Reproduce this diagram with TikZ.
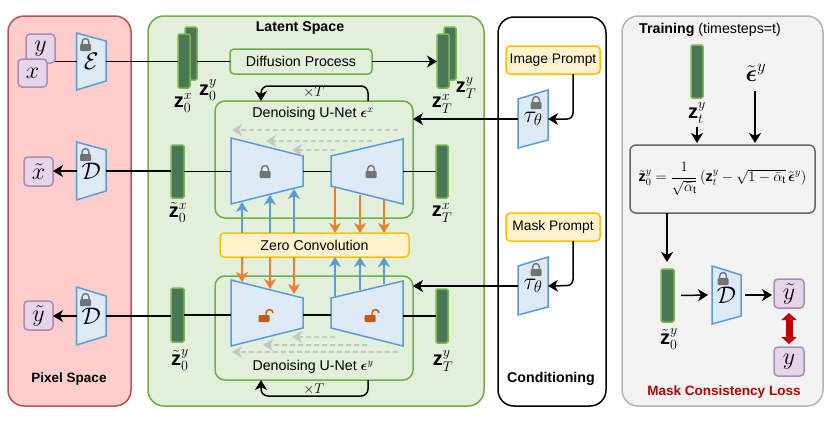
\documentclass[tikz,border=0pt]{standalone}
\usepackage{amsmath,amssymb}
\usepackage{fix-cm}
\usepackage{fontspec}
\setmainfont{Liberation Sans}
\usetikzlibrary{arrows.meta}
\definecolor{pixfill}{HTML}{FFCCCC}\definecolor{pixline}{HTML}{B85450}
\definecolor{latfill}{HTML}{E2EFDA}\definecolor{latline}{HTML}{70AD47}
\definecolor{trafill}{HTML}{F2F2F2}\definecolor{traline}{HTML}{B3B3B3}
\definecolor{trapfill}{HTML}{DEE9F6}\definecolor{blueline}{HTML}{5B9BD5}
\definecolor{orangeline}{HTML}{ED7D31}\definecolor{barfill}{HTML}{4A7856}
\definecolor{barline}{HTML}{7DB54F}
\definecolor{purfill}{HTML}{E6D5E8}\definecolor{purline}{HTML}{A98CB8}
\definecolor{yelfill}{HTML}{FFF2CC}\definecolor{yelline}{HTML}{FFC000}
\definecolor{lockgray}{HTML}{737373}\definecolor{lockor}{HTML}{C55A11}
\definecolor{dashgray}{HTML}{C6C6C6}\definecolor{lossred}{HTML}{C00000}
\newcommand{\ltxt}[1]{\fontsize{#1}{#1}\selectfont}
\tikzset{
  panel/.style={draw,line width=1.5pt,rounded corners=16pt},
  barn/.style={draw=barline,fill=barfill,line width=1.5pt,rounded corners=1.5pt},
  purbox/.style={draw=purline,fill=purfill,line width=1.5pt,rounded corners=4pt},
  grebox/.style={draw=latline,line width=1.5pt,rounded corners=4pt},
  unetbox/.style={draw=latline,line width=1.5pt,rounded corners=10pt},
  yelbox/.style={draw=yelline,fill=yelfill,line width=1.5pt,rounded corners=4pt},
  formbox/.style={draw=black!60,line width=1.5pt,rounded corners=6pt},
  trappoly/.style={draw=blueline,fill=trapfill,line width=1.5pt,line join=miter},
  wire/.style={line width=1.5pt,black},
  arr/.style={line width=1.5pt,black,-{Stealth[length=10pt,width=12pt,inset=3pt]}},
  thinarr/.style={line width=1.5pt,-{Stealth[length=10pt,width=12pt,inset=3pt]}},
  bluearr/.style={thinarr,blueline},
  orarr/.style={thinarr,orangeline},
  grayarr/.style={line width=1.2pt,dashgray,dash pattern=on 5pt off 3pt,-{Stealth[length=10pt,width=12pt,inset=3pt]}},
  mlabel/.style={inner sep=0pt,font=\ltxt{20}},
  title/.style={inner sep=0pt,font=\ltxt{14.2}\bfseries},
  lockclosed/.pic={\fill[lockgray,rounded corners=1pt] (-5.5,-1) rectangle (5.5,6);
    \draw[lockgray,line width=1.4pt] (-3.4,-1) -- (-3.4,-3) .. controls (-3.4,-7.5) and (3.4,-7.5) .. (3.4,-3) -- (3.4,-1);},
  lockopen/.pic={\fill[lockor,rounded corners=1pt] (-5.5,-1) rectangle (5.5,6);
    \draw[lockor,line width=1.4pt] (2,-1) -- (2,-3) .. controls (2,-7.5) and (9,-7.5) .. (9,-3);},
}
% style, x1, y1, x2, y2, name, text
\newcommand{\rbox}[7]{%
  \pgfmathsetmacro\bw{#4-#2}\pgfmathsetmacro\bh{#5-#3}%
  \pgfmathsetmacro\bx{(#4+#2)/2}\pgfmathsetmacro\by{(#5+#3)/2}%
  \node[#1,minimum width=\bw pt,minimum height=\bh pt,inner sep=0pt,outer sep=0pt] (#6) at (\bx,\by) {#7};}
% name, x1, x2, lefttop, leftbottom, righttop, rightbottom, text
\newcommand{\trapz}[8]{%
  \draw[trappoly] (#2,#4) -- (#3,#6) -- (#3,#7) -- (#2,#5) -- cycle;
  \pgfmathsetmacro\tmin{min(#4,#6)}\pgfmathsetmacro\tmax{max(#5,#7)}%
  \pgfmathsetmacro\bw{#3-#2}\pgfmathsetmacro\bh{\tmax-\tmin}%
  \pgfmathsetmacro\bx{(#3+#2)/2}\pgfmathsetmacro\by{(\tmax+\tmin)/2}%
  \node[minimum width=\bw pt,minimum height=\bh pt,inner sep=0pt,outer sep=0pt,font=\ltxt{24}] (#1) at (\bx,\by) {#8};}
\begin{document}
\begin{tikzpicture}[x=1pt,y=-1pt,font=\ltxt{14.2}]
\useasboundingbox (0,0) rectangle (830,423);
% panels
\rbox{panel,draw=pixline,fill=pixfill}{8}{16}{131}{406}{pixpanel}{}
\rbox{panel,draw=latline,fill=latfill}{148}{16}{484}{406}{latpanel}{}
\rbox{panel,draw=black,fill=white}{498}{17}{606}{406}{condpanel}{}
\rbox{panel,draw=traline,fill=trafill}{622}{16}{823}{406}{trapanel}{}
\node[title,font=\ltxt{13.5}\bfseries] (tpix) at (69,379) {Pixel Space};
\node[title] (tlat) at (300,28) {Latent Space};
\node[title] (tcond) at (551,379) {Conditioning};
\node[inner sep=0pt,anchor=west] (ttra) at (639,30) {\textbf{Training} (timesteps=t)};
\node[title,font=\ltxt{13.5}\bfseries,text=lossred] (tloss) at (724,392) {Mask Consistency Loss};
% U-Net frames
\rbox{unetbox}{215}{101}{413}{218}{unetx}{}
\rbox{unetbox}{215}{276}{413}{380}{unety}{}
\node[inner sep=0pt] (unetxl) at (313,114) {Denoising U-Net $\boldsymbol{\epsilon}^{x}$};
\node[inner sep=0pt] (unetyl) at (313,367) {Denoising U-Net $\boldsymbol{\epsilon}^{y}$};
% encoder side
\rbox{purbox}{26}{34}{55}{63}{yin}{\ltxt{24}$y$}
\rbox{purbox}{18}{59}{47}{87}{xin}{\ltxt{24}$x$}
\trapz{enc}{76.5}{106}{33}{90}{41}{81}{$\mathcal{E}$}
\pic at (85.5,45) {lockclosed};
\trapz{decx}{76.5}{106}{142}{200}{150}{191}{$\mathcal{D}$}
\pic at (85.5,155) {lockclosed};
\trapz{decy}{76.5}{106}{287}{345}{296}{336}{$\mathcal{D}$}
\pic at (85.5,300) {lockclosed};
\rbox{purbox}{24}{157}{53}{186}{xout}{\ltxt{24}$\tilde{x}$}
\rbox{purbox}{24}{301}{53}{330}{yout}{\ltxt{24}$\tilde{y}$}
% latent bars
\rbox{barn}{185}{27}{197}{80}{zoy}{}
\rbox{barn}{178}{34}{190}{88}{zox}{}
\rbox{barn}{444}{27}{456}{80}{zTy}{}
\rbox{barn}{437}{34}{449}{88}{zTx}{}
\rbox{barn}{171}{145}{184}{198}{zhx}{}
\rbox{barn}{171}{288}{184}{342}{zhy}{}
\rbox{barn}{436}{145}{448}{198}{zTxb}{}
\rbox{barn}{436}{289}{448}{343}{zTyb}{}
\node[mlabel] (lzox) at (183,103) {$\mathbf{z}_0^{x}$};
\node[mlabel] (lzoy) at (208,90) {$\mathbf{z}_0^{y}$};
\node[mlabel] (lzTx) at (442,104) {$\mathbf{z}_T^{x}$};
\node[mlabel] (lzTy) at (466,88) {$\mathbf{z}_T^{y}$};
\node[mlabel] (lzhx) at (178,212) {$\tilde{\mathbf{z}}_0^{x}$};
\node[mlabel] (lzhy) at (180,360) {$\tilde{\mathbf{z}}_0^{y}$};
\node[mlabel] (lzTxb) at (442,213) {$\mathbf{z}_T^{x}$};
\node[mlabel] (lzTyb) at (443,361) {$\mathbf{z}_T^{y}$};
% boxes
\rbox{grebox}{230}{49}{372}{74}{diff}{Diffusion Process}
\rbox{yelbox}{220}{233}{409}{257}{zero}{Zero Convolution}
\rbox{yelbox}{506}{46}{600}{74}{imgp}{\ltxt{13.8}Image Prompt}
\rbox{yelbox}{506}{213}{600}{241}{maskp}{\ltxt{13.8}Mask Prompt}
% tau encoders
\trapz{taux}{518}{548}{99}{148}{90}{140}{$\tau_\theta$}
\pic at (536,103) {lockclosed};
\trapz{tauy}{518}{548}{266}{315}{257}{307}{$\tau_\theta$}
\pic at (536,270) {lockclosed};
% U-Net trapezoids
\trapz{exl}{231}{303}{138}{204}{156}{186}{}
\trapz{exr}{331}{403}{156}{186}{139}{204}{}
\trapz{eyl}{231}{303}{280}{346}{298}{328}{}
\trapz{eyr}{331}{403}{298}{328}{281}{346}{}
\pic at (265,172) {lockclosed};
\pic at (371,172) {lockclosed};
\pic at (264,316) {lockopen};
\pic at (370,316) {lockopen};
% wires
\draw[wire] (yin.east |- enc.west) -- (enc.west);
\draw[wire] (enc.east) -- (zox.west |- enc.east);
\draw[wire] (zoy.east |- diff.west) -- (diff.west);
\draw[arr] (diff.east) -- (zTx.west |- diff.east);
\draw[arr] (decx.west) -- (xout.east |- decx.west);
\draw[wire] (decx.east) -- (zhx.west |- decx.east);
\draw[wire] (zhx.east) -- (exl.west |- zhx.east);
\draw[wire] (exl.east |- zhx.east) -- (exr.west |- zhx.east);
\draw[wire] (exr.east |- zTxb.west) -- (zTxb.west);
\draw[arr] (decy.west) -- (yout.east |- decy.west);
\draw[wire] (decy.east) -- (zhy.west |- decy.east);
\draw[wire] (zhy.east) -- (eyl.west |- zhy.east);
\draw[wire] (eyl.east |- zhy.east) -- (eyr.west |- zhy.east);
\draw[wire] (eyr.east |- zTyb.west) -- (zTyb.west);
% conditioning
\coordinate (ic) at (573,119);
\coordinate (mc) at (573,285.5);
\draw[arr,rounded corners=6pt] (imgp.south -| ic) -- (ic) -- (taux.east);
\draw[arr,rounded corners=6pt] (maskp.south -| mc) -- (mc) -- (tauy.east);
\draw[arr] (taux.west) -- (taux.west -| unetx.east);
\draw[arr] (tauy.west) -- (tauy.west -| unety.east);
% loops
\coordinate (lxa) at (368,86);\coordinate (lxb) at (261,86);
\coordinate (lya) at (368,396);\coordinate (lyb) at (261,396);
\draw[arr,rounded corners=7pt] (unetx.north -| lxa) -- (lxa) -- (lxb) -- (unetx.north -| lxb);
\draw[arr,rounded corners=7pt] (unety.south -| lya) -- (lya) -- (lyb) -- (unety.south -| lyb);
\node[inner sep=0pt] (tx) at (314,92) {$\times T$};
\node[inner sep=0pt] (ty) at (314,389) {$\times T$};
% skip arrows
\foreach \n/\a/\b/\yy in {a/398/232/130,b/372/266/141,c/335/292/150,d/335/292/337,e/367/263/345,f/398/232/352}{
  \coordinate (sk\n a) at (\a,\yy);\coordinate (sk\n b) at (\b,\yy);
  \draw[grayarr] (sk\n a) -- (sk\n b);}
% zero-convolution arrows
\foreach \n/\xx/\yb/\yo in {1/242/202/282,2/270/195/289,3/294/189/294}{
  \coordinate (bt\n) at (\xx,\yb);\coordinate (ot\n) at (\xx,\yo);
  \draw[bluearr] (zero.north -| bt\n) -- (bt\n);
  \draw[orarr] (zero.south -| ot\n) -- (ot\n);}
\foreach \n/\xx/\yo/\yb in {4/335/187/296,5/360/195/290,6/384/200/284}{
  \coordinate (os\n) at (\xx,\yo);\coordinate (bs\n) at (\xx,\yb);
  \draw[orarr] (os\n) -- (zero.north -| os\n);
  \draw[bluearr] (bs\n) -- (zero.south -| bs\n);}
% training panel
\rbox{barn}{691}{45}{703}{98}{ztr}{}
\node[mlabel] (lztr) at (697,113) {$\mathbf{z}_t^{y}$};
\node[mlabel,font=\ltxt{24}] (etr) at (756,73) {$\tilde{\boldsymbol{\epsilon}}^{y}$};
\rbox{formbox}{630}{145}{815}{213}{form}{\ltxt{14.5}$\tilde{\mathbf{z}}_0^{y}=\dfrac{1}{\sqrt{\bar{\alpha}_{\mathrm{t}}}}\,(\mathbf{z}_t^{y}-\sqrt{1-\bar{\alpha}_{\mathrm{t}}}\,\tilde{\boldsymbol{\epsilon}}^{y})$}
\coordinate (fa) at (697,143);\coordinate (fb) at (755,143);\coordinate (fc) at (755,91);\coordinate (fd) at (667,262);\coordinate (fe) at (697,127);
\draw[arr] (fe) -- (fa);
\draw[arr] (fc) -- (fb);
\draw[arr] (form.south -| fd) -- (fd);
\rbox{barn}{661}{269}{674}{322}{zbt}{}
\node[mlabel] (lzbt) at (669,339) {$\tilde{\mathbf{z}}_0^{y}$};
\trapz{dect}{712}{741}{266}{324}{275}{316}{$\mathcal{D}$}
\pic at (723,279) {lockclosed};
\rbox{purbox}{774}{279}{804}{308}{yhat}{\ltxt{24}$\tilde{y}$}
\rbox{purbox}{774}{347}{804}{376}{ytrue}{\ltxt{24}$y$}
\draw[arr] ([xshift=7pt]zbt.east) -- ([xshift=-4pt]dect.west);
\draw[arr] ([xshift=4pt]dect.east) -- ([xshift=-2pt]dect.east -| yhat.west);
\draw[lossred,line width=7pt,{Triangle[length=7pt,width=15pt]}-{Triangle[length=7pt,width=15pt]}] ([yshift=-5pt]yhat.south) -- ([yshift=3pt]ytrue.north);
\end{tikzpicture}
\end{document}
